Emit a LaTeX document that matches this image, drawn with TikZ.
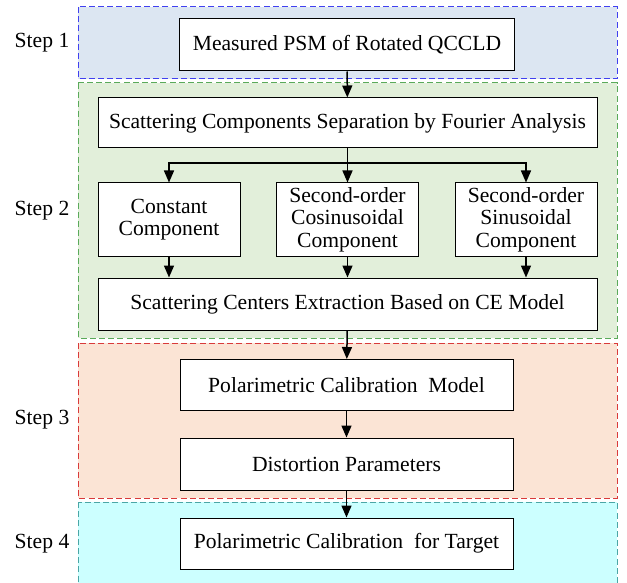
\documentclass[tikz,border=0pt]{standalone}
\usepackage{fontspec}
\setmainfont{Liberation Serif}
\usetikzlibrary{arrows.meta, positioning}

\definecolor{bandblue}{HTML}{DCE6F2}
\definecolor{lineblue}{HTML}{4040F0}
\definecolor{bandgreen}{HTML}{E2EFDA}
\definecolor{linegreen}{HTML}{5AAA5A}
\definecolor{bandred}{HTML}{FBE4D5}
\definecolor{linered}{HTML}{D93A3A}
\definecolor{bandcyan}{HTML}{CCFFFF}
\definecolor{linecyan}{HTML}{4AA6A6}

\tikzset{
	stepbox/.style={draw, line width=0.5pt, fill=white, inner sep=1pt, align=center,
		font=\rmfamily\fontsize{10.8}{11.2}\selectfont},
	band/.style={dashed, dash pattern=on 3pt off 1.6pt, line width=0.5pt},
	steplabel/.style={font=\rmfamily\fontsize{10.8}{12}\selectfont},
	arr/.style={-{Triangle[length=6pt,width=5pt]}, line width=0.75pt}
}

\begin{document}
\begin{tikzpicture}[x=0.5pt, y=-0.5pt]
		\useasboundingbox (0,0) rectangle (627,583);
		% step bands
		\draw[band, fill=bandblue, draw=lineblue] (78,7) rectangle (617,79);
		\draw[band, fill=bandgreen, draw=linegreen] (78,83) rectangle (617,338);
		\draw[band, fill=bandred, draw=linered] (78,343) rectangle (617,498);
		\draw[band, fill=bandcyan, draw=linecyan] (78,502) rectangle (617,595);
		\node[steplabel] (s1) at (42,43) {Step 1};
		\node[steplabel] (s2) at (42,211) {Step 2};
		\node[steplabel] (s3) at (42,420) {Step 3};
		\node[steplabel] (s4) at (42,544) {Step 4};
		% boxes
		\node[stepbox, minimum width=167.5pt, minimum height=26pt] (meas) at (347,45) {Measured PSM of Rotated QCCLD};
		\node[stepbox, minimum width=249.5pt, minimum height=25pt] (sep) at (347.5,123) {Scattering Components Separation by Fourier Analysis};
		\node[stepbox, minimum width=71pt, minimum height=36.5pt] (const) at (169,219.5) {Constant\\Component};
		\node[stepbox, minimum width=71pt, minimum height=36.5pt] (cos) at (347.5,219.5) {Second-order\\Cosinusoidal\\Component};
		\node[stepbox, minimum width=71pt, minimum height=36.5pt] (sin) at (526,219.5) {Second-order\\Sinusoidal\\Component};
		\node[stepbox, minimum width=249.5pt, minimum height=26pt] (extr) at (347.5,304) {Scattering Centers Extraction Based on CE Model};
		\node[stepbox, minimum width=166.5pt, minimum height=25.5pt] (calib) at (346.5,385) {Polarimetric Calibration\ \ Model};
		\node[stepbox, minimum width=166.5pt, minimum height=26pt] (dist) at (346.5,464) {Distortion Parameters};
		\node[stepbox, minimum width=166.5pt, minimum height=25.5pt] (targ) at (346.5,543.5) {Polarimetric Calibration\ \ for Target};
		% connectors
		\coordinate (fork) at (sep.south |- 0,163);
		\draw[arr] (meas) -- (sep);
		\draw[line width=0.75pt] (sep.south) -- (fork);
		\draw[arr] (fork) -| (const.north);
		\draw[arr] (fork) -- (cos.north);
		\draw[arr] (fork) -| (sin.north);
		\draw[arr] (const) -- (const |- extr.north);
		\draw[arr] (cos) -- (cos |- extr.north);
		\draw[arr] (sin) -- (sin |- extr.north);
		\draw[arr] (extr) -- (calib);
		\draw[arr] (calib) -- (dist);
		\draw[arr] (dist) -- (targ);
	\end{tikzpicture}
\end{document}
